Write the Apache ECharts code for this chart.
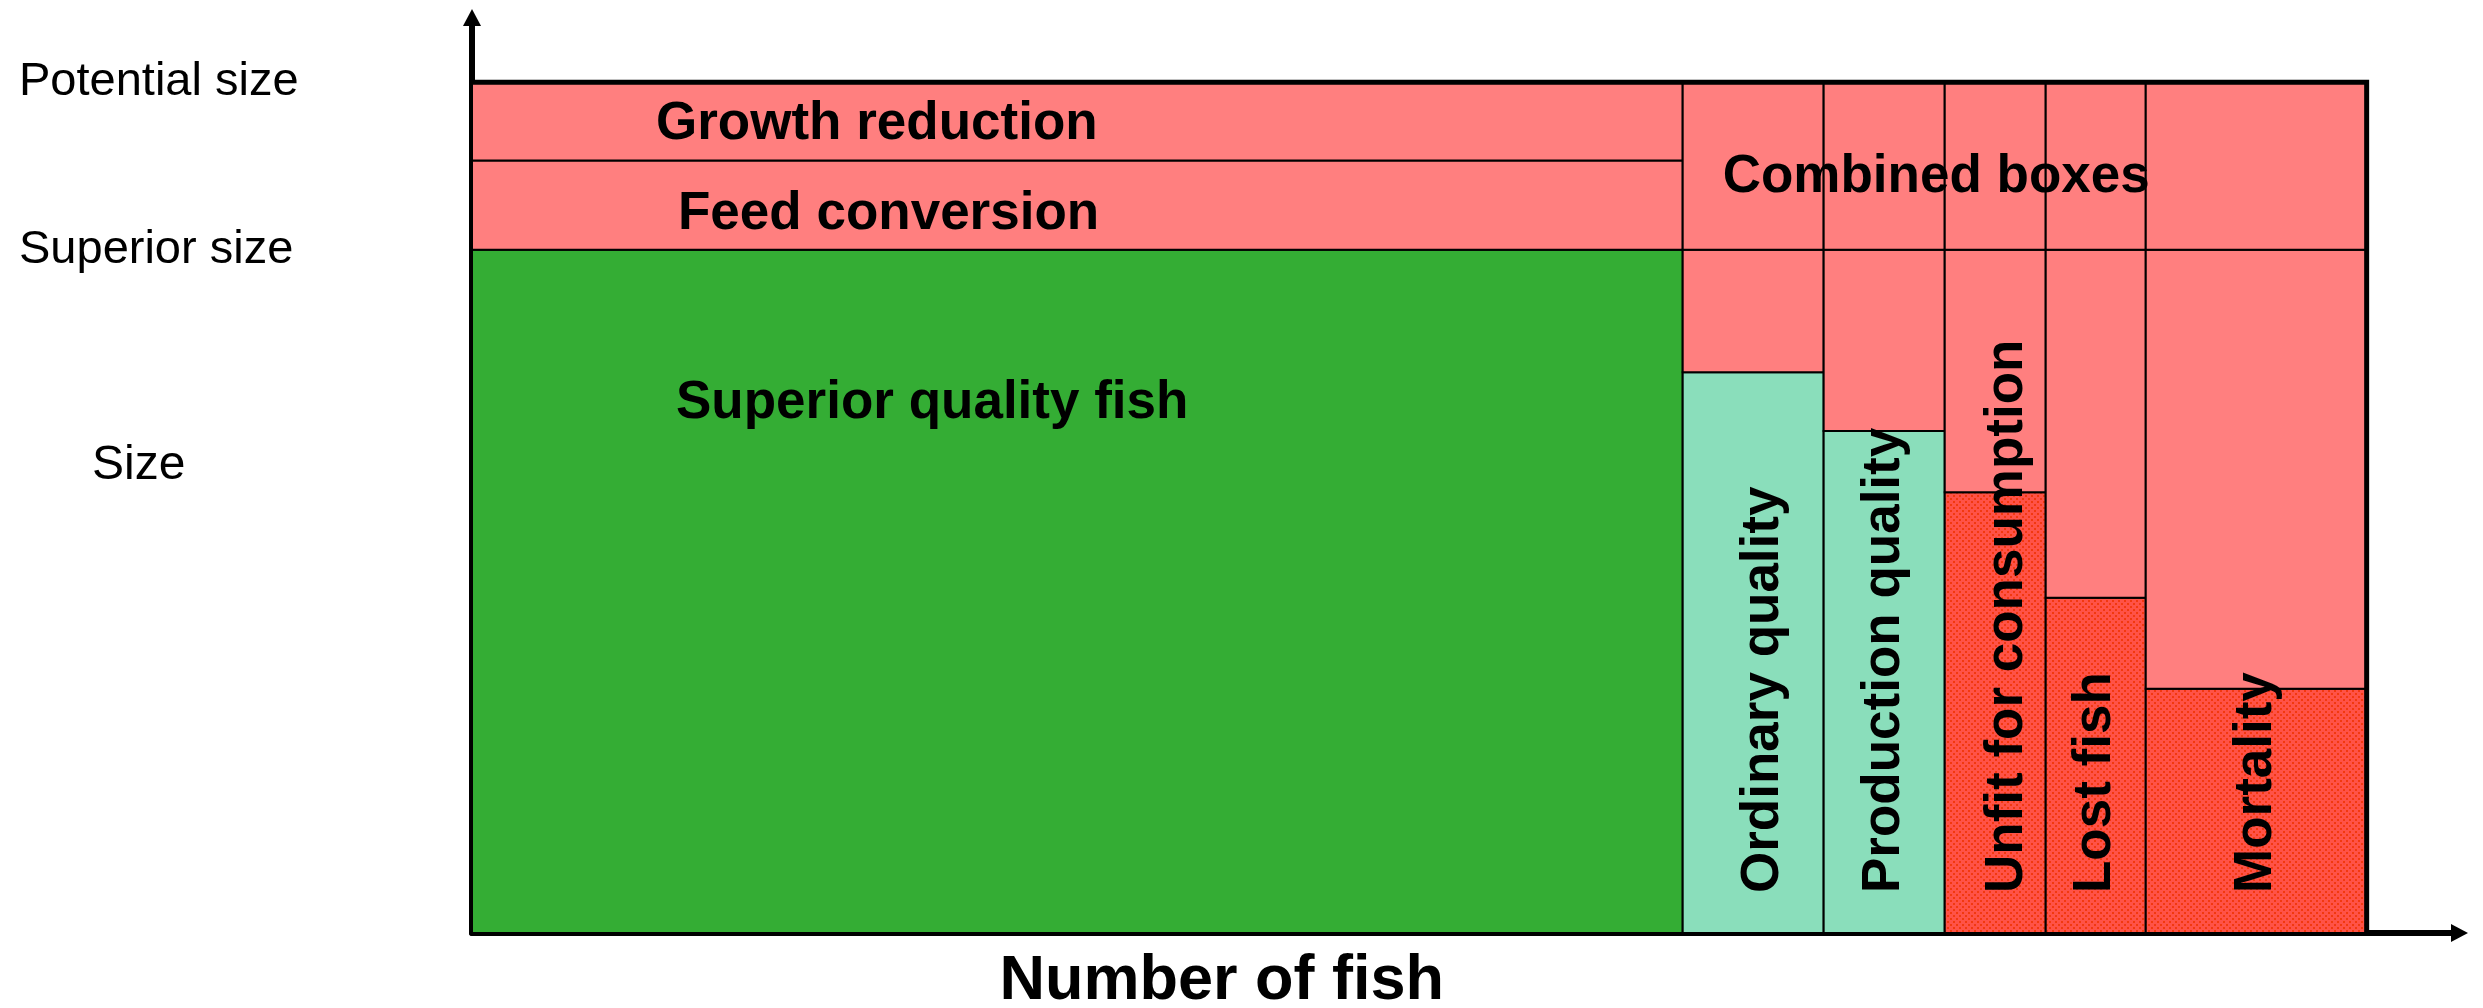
<!DOCTYPE html>
<html>
<head>
<meta charset="utf-8">
<script src="https://cdn.jsdelivr.net/npm/echarts@6/dist/echarts.min.js"></script>
<style>
html, body { margin: 0; padding: 0; background: #fff; }
#main { width: 2483px; height: 1008px; }
</style>
</head>
<body>
<div id="main"></div>
<script>
// fish groups, left to right along the "number of fish" axis
var categories = ['Superior quality fish', 'Ordinary quality', 'Production quality', 'Unfit for consumption', 'Lost fish', 'Mortality'];
var fishShare = [63.9, 7.44, 6.39, 5.33, 5.28, 11.66];     // % of the fish
var sizeReached = [80.3, 65.9, 59.0, 51.8, 39.4, 28.7];    // % of potential size
var fillKind = ['superior', 'fair', 'fair', 'loss', 'loss', 'loss'];
// size levels on the y axis
var sizeLevels = [80.3, 100];
var sizeLevelNames = ['Superior size', 'Potential size'];
var feedSplit = 90.8;   // border between feed conversion and growth reduction

var FONT = '"Liberation Sans", Arial, Helvetica, sans-serif';

// dotted red fill for the lost fish
var dots = document.createElement('canvas');
dots.width = 6;
dots.height = 6;
var dctx = dots.getContext('2d');
dctx.fillStyle = '#ff5247';
dctx.fillRect(0, 0, 6, 6);
dctx.fillStyle = '#f2380f';
dctx.fillRect(0, 0, 2, 2);
dctx.fillRect(3, 3, 2, 2);

var fills = {
    superior: '#34ad34',
    fair: '#8adebb',
    loss: { image: dots, repeat: 'repeat' },
    gap: '#ff7f7f'
};

// label placement inside the boxes (px from box left / top)
var labelLayout = {
    'Superior quality fish': { dx: 204, top: 154 },
    'Feed conversion': { dx: 206, top: 54 },
    'Growth reduction': { dx: 184, top: 42 },
    'Combined boxes': { dx: 40, top: 95 }
};
// small sideways nudges for the upright labels (px)
var uprightShift = { 'Ordinary quality': 10, 'Unfit for consumption': 12 };

// build boxes: [x0, x1, y0, y1, fill, label]
var boxes = [];
var start = 0;
for (var i = 0; i < categories.length; i++) {
    var end = start + fishShare[i];
    boxes.push([start, end, 0, sizeReached[i], fillKind[i], categories[i]]);
    if (i == 0) {
        boxes.push([start, end, sizeLevels[0], feedSplit, 'gap', 'Feed conversion']);
        boxes.push([start, end, feedSplit, sizeLevels[1], 'gap', 'Growth reduction']);
    } else {
        boxes.push([start, end, sizeReached[i], sizeLevels[0], 'gap', '']);
        boxes.push([start, end, sizeLevels[0], sizeLevels[1], 'gap', i == 1 ? 'Combined boxes' : '']);
    }
    start = end;
}
var totalFish = start;

function renderBox(params, api) {
    var p0 = api.coord([api.value(0), api.value(3)]);
    var p1 = api.coord([api.value(1), api.value(2)]);
    var b = boxes[params.dataIndex];
    var children = [{
        type: 'rect',
        shape: { x: p0[0], y: p0[1], width: p1[0] - p0[0], height: p1[1] - p0[1] },
        style: { fill: fills[b[4]], stroke: '#000', lineWidth: 2 }
    }];
    var name = b[5];
    if (name) {
        var lay = labelLayout[name];
        var txtStyle = { text: name, font: 'bold 53px ' + FONT, fill: '#000', align: 'left', verticalAlign: 'middle' };
        if (lay) {
            children.push({
                type: 'text', z2: 100,
                x: p0[0] + lay.dx,
                y: p0[1] + lay.top,
                style: txtStyle
            });
        } else {
            children.push({
                type: 'text', z2: 100,
                x: (p0[0] + p1[0]) / 2 + (uprightShift[name] || 0),
                y: p1[1] - 40,
                rotation: Math.PI / 2,
                style: txtStyle
            });
        }
    }
    return { type: 'group', children: children };
}

function renderFrame(params, api) {
    var a = api.coord([0, sizeLevels[1]]);
    var b = api.coord([totalFish, sizeLevels[1]]);
    var c = api.coord([totalFish, 0]);
    return {
        type: 'polyline', z2: 50,
        shape: { points: [a, b, c] },
        style: { fill: null, stroke: '#000', lineWidth: 5 }
    };
}

var chart = echarts.init(document.getElementById('main'));
var option = {
    animation: false,
    title: {
        text: 'Size',
        left: 92,
        top: 442,
        padding: 0,
        textStyle: { fontFamily: FONT, fontSize: 48, fontWeight: 'normal', color: '#000' }
    },
    grid: { left: 472, right: 23.5, top: 17.5, bottom: 75, outerBoundsMode: 'none' },
    xAxis: {
        type: 'value', min: 0, max: 104.9,
        name: 'Number of fish',
        nameLocation: 'middle',
        nameGap: 17,
        nameTextStyle: { fontFamily: FONT, fontSize: 63, fontWeight: 'bold', color: '#000', padding: [0, 488, 0, 0] },
        axisLine: { show: true, symbol: ['none', 'triangle'], symbolSize: [18, 17], lineStyle: { color: '#000', width: 6 } },
        axisTick: { show: false },
        axisLabel: { show: false },
        splitLine: { show: false }
    },
    yAxis: {
        type: 'value', min: 0, max: 107.6,
        axisLine: { show: true, symbol: ['none', 'triangle'], symbolSize: [18, 17], lineStyle: { color: '#000', width: 6 } },
        axisTick: { show: false },
        axisLabel: {
            customValues: sizeLevels,
            formatter: function (v) {
                return sizeLevelNames[sizeLevels.indexOf(v)];
            },
            align: 'left',
            margin: 453,
            fontFamily: FONT,
            fontSize: 47,
            color: '#000'
        },
        splitLine: { show: false }
    },
    series: [{
        type: 'custom',
        renderItem: renderBox,
        encode: { x: [0, 1], y: [2, 3] },
        data: boxes.map(function (b) { return b.slice(0, 4); })
    }, {
        type: 'custom',
        renderItem: renderFrame,
        data: [[0, 0]]
    }]
};
chart.setOption(option);
</script>
</body>
</html>
